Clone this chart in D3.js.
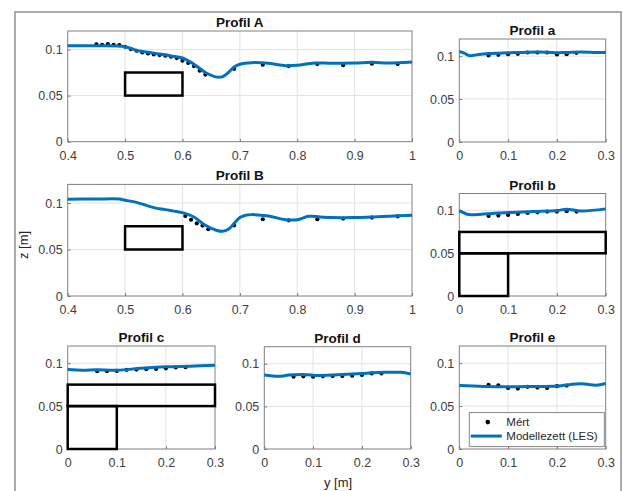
<!DOCTYPE html>
<meta charset="utf-8">
<style>
body { margin: 0; background: #fff; }
.chart text { font-family: "Liberation Sans", Arial, sans-serif; fill: #262626; }
.chart .tick text { font-size: 12.5px; fill: #404040; }
.chart .title { font-size: 13.5px; font-weight: bold; fill: #111; }
.chart .grid line { stroke: #e3e3e3; }
.chart .frame { fill: none; stroke: #808080; }
.chart .model { fill: none; stroke: #0072BD; stroke-width: 3; }
.chart .obstacle { fill: none; stroke: #000; stroke-width: 2.5; }
</style>
<body>
<svg class="chart js-chart"></svg>
<script src="https://cdn.jsdelivr.net/npm/d3@7"></script>
<script>
"use strict";

// Profil A (wide)
var lineA_y = [0.4, 0.45, 0.5, 0.52, 0.55, 0.58, 0.6, 0.62, 0.64, 0.66, 0.67, 0.68, 0.69, 0.7, 0.72, 0.75, 0.78, 0.8, 0.83, 0.86, 0.9, 0.93, 0.96, 1.0];
var lineA_z = [0.104, 0.104, 0.103, 0.099, 0.096, 0.093, 0.0907, 0.084, 0.075, 0.070, 0.0706, 0.075, 0.081, 0.084, 0.0857, 0.085, 0.0824, 0.0828, 0.0853, 0.085, 0.0853, 0.086, 0.0853, 0.0864];
var dotsA_y = [0.45, 0.46, 0.47, 0.48, 0.49, 0.5, 0.51, 0.52, 0.53, 0.54, 0.55, 0.56, 0.57, 0.58, 0.59, 0.6, 0.61, 0.62, 0.63, 0.64, 0.69, 0.74, 0.785, 0.835, 0.88, 0.93, 0.975];
var dotsA_z = [0.1054, 0.105, 0.1057, 0.105, 0.1047, 0.1029, 0.1004, 0.0986, 0.0968, 0.0957, 0.0946, 0.0939, 0.0932, 0.0921, 0.0907, 0.0878, 0.0853, 0.082, 0.077, 0.0728, 0.079, 0.0835, 0.082, 0.0842, 0.083, 0.0846, 0.0842];

// Profil B (wide)
var lineB_y = [0.4, 0.45, 0.49, 0.5, 0.52, 0.55, 0.57, 0.6, 0.62, 0.64, 0.66, 0.67, 0.68, 0.69, 0.7, 0.71, 0.72, 0.75, 0.78, 0.8, 0.82, 0.84, 0.86, 0.9, 0.93, 0.96, 1.0];
var lineB_z = [0.104, 0.1043, 0.1043, 0.103, 0.1007, 0.095, 0.0929, 0.0896, 0.085, 0.076, 0.0704, 0.0696, 0.0718, 0.0779, 0.0843, 0.0868, 0.0875, 0.086, 0.082, 0.082, 0.0857, 0.085, 0.0843, 0.0843, 0.085, 0.0857, 0.0868];
var dotsB_y = [0.605, 0.615, 0.625, 0.635, 0.645, 0.69, 0.74, 0.785, 0.835, 0.88, 0.93, 0.975];
var dotsB_z = [0.086, 0.082, 0.078, 0.0757, 0.0718, 0.076, 0.0825, 0.0814, 0.0825, 0.0832, 0.0843, 0.0857];

// small profiles a..e: measured y positions
var dotsSmall_y = [0.06, 0.08, 0.1, 0.12, 0.14, 0.16, 0.18, 0.2, 0.22, 0.24];
var dotsSmallE_y = [0.06, 0.08, 0.1, 0.12, 0.14, 0.16, 0.18, 0.2, 0.22];

var lineSmallA_y = [0, 0.01, 0.02, 0.03, 0.04, 0.06, 0.1, 0.14, 0.18, 0.2, 0.22, 0.25, 0.28, 0.3];
var lineSmallA_z = [0.1054, 0.1035, 0.1006, 0.101, 0.102, 0.103, 0.1039, 0.1047, 0.1047, 0.104, 0.1043, 0.105, 0.1043, 0.1043];
var dotsSmallA_z = [0.1008, 0.1016, 0.1023, 0.1027, 0.1043, 0.1043, 0.1043, 0.102, 0.1023, 0.1039];

var lineSmallB_y = [0, 0.02, 0.05, 0.1, 0.15, 0.2, 0.22, 0.25, 0.3];
var lineSmallB_z = [0.1, 0.0953, 0.096, 0.0977, 0.0988, 0.1, 0.1016, 0.0996, 0.102];
var dotsSmallB_z = [0.0938, 0.0941, 0.0949, 0.0961, 0.0973, 0.098, 0.0988, 0.0988, 0.0992, 0.0988];

var lineSmallC_y = [0, 0.03, 0.06, 0.1, 0.15, 0.2, 0.25, 0.3];
var lineSmallC_z = [0.0925, 0.0918, 0.0922, 0.0918, 0.094, 0.0957, 0.0965, 0.0976];
var dotsSmallC_z = [0.0906, 0.0906, 0.091, 0.0922, 0.0925, 0.093, 0.0933, 0.094, 0.095, 0.0953];

var lineSmallD_y = [0, 0.03, 0.05, 0.08, 0.1, 0.15, 0.2, 0.25, 0.28, 0.3];
var lineSmallD_z = [0.0868, 0.0852, 0.0868, 0.0875, 0.0864, 0.0872, 0.0887, 0.0899, 0.0899, 0.088];
var dotsSmallD_z = [0.0848, 0.0852, 0.0848, 0.0852, 0.0856, 0.0856, 0.086, 0.0868, 0.0887, 0.0887];

var lineSmallE_y = [0, 0.05, 0.1, 0.15, 0.2, 0.25, 0.28, 0.3];
var lineSmallE_z = [0.0739, 0.0728, 0.0724, 0.0728, 0.0735, 0.0759, 0.0743, 0.0763];
var dotsSmallE_z = [0.0747, 0.0743, 0.0712, 0.0704, 0.0724, 0.0716, 0.0712, 0.0732, 0.0739];

// obstacle outlines [y0, y1, z0, z1]
var obstacleWide = [[0.5, 0.6, 0.05, 0.075]];
var obstacleSmall = [[0, 0.3, 0.05, 0.075], [0, 0.1, 0, 0.05]];

var wideTicksX = [0.4, 0.5, 0.6, 0.7, 0.8, 0.9, 1];
var smallTicksX = [0, 0.1, 0.2, 0.3];
var ticksZ = [0, 0.05, 0.1];
var legendLabels = ["Mért", "Modellezett (LES)"];

var panels = [
    { title: "Profil A", box: [67.7, 412, 31, 141.7], dom: [0.4, 1], ticks: wideTicksX,
      ly: lineA_y, lz: lineA_z, dy: dotsA_y, dz: dotsA_z, obs: obstacleWide },
    { title: "Profil a", box: [459.3, 605.7, 39, 142], dom: [0, 0.3], ticks: smallTicksX,
      ly: lineSmallA_y, lz: lineSmallA_z, dy: dotsSmall_y, dz: dotsSmallA_z, obs: [] },
    { title: "Profil B", box: [67.7, 412, 184.4, 296], dom: [0.4, 1], ticks: wideTicksX,
      ly: lineB_y, lz: lineB_z, dy: dotsB_y, dz: dotsB_z, obs: obstacleWide },
    { title: "Profil b", box: [459.3, 605.7, 193.5, 296], dom: [0, 0.3], ticks: smallTicksX,
      ly: lineSmallB_y, lz: lineSmallB_z, dy: dotsSmall_y, dz: dotsSmallB_z, obs: obstacleSmall },
    { title: "Profil c", box: [67.7, 215, 346, 449], dom: [0, 0.3], ticks: smallTicksX,
      ly: lineSmallC_y, lz: lineSmallC_z, dy: dotsSmall_y, dz: dotsSmallC_z, obs: obstacleSmall },
    { title: "Profil d", box: [264.3, 410.7, 346.7, 449], dom: [0, 0.3], ticks: smallTicksX,
      ly: lineSmallD_y, lz: lineSmallD_z, dy: dotsSmall_y, dz: dotsSmallD_z, obs: [] },
    { title: "Profil e", box: [459.3, 605.7, 346, 449], dom: [0, 0.3], ticks: smallTicksX,
      ly: lineSmallE_y, lz: lineSmallE_z, dy: dotsSmallE_y, dz: dotsSmallE_z, obs: [], legend: true }
];

var width = 623, height = 491;

var svg = d3.select(".js-chart")
    .attr("width", width)
    .attr("height", height);

svg.append("rect")
    .attr("x", 15).attr("y", 12)
    .attr("width", 606).attr("height", 500)
    .attr("fill", "#fff")
    .attr("stroke", "#ababab")
    .attr("stroke-width", 2);

panels.forEach(function(p) {
    var x = d3.scaleLinear().domain(p.dom).range([p.box[0], p.box[1]]);
    var z = d3.scaleLinear().domain([0, 0.12]).range([p.box[3], p.box[2]]);
    var g = svg.append("g");

    // grid
    var grid = g.append("g").attr("class", "grid");
    grid.selectAll(".gx").data(p.ticks.slice(1, -1)).enter().append("line")
        .attr("x1", function(d) { return x(d); }).attr("x2", function(d) { return x(d); })
        .attr("y1", z(0)).attr("y2", z(0.12));
    grid.selectAll(".gz").data(ticksZ.slice(1)).enter().append("line")
        .attr("y1", function(d) { return z(d); }).attr("y2", function(d) { return z(d); })
        .attr("x1", x(p.dom[0])).attr("x2", x(p.dom[1]));

    // axes
    var ax = g.append("g")
        .attr("transform", "translate(0," + p.box[3] + ")")
        .call(d3.axisBottom(x).tickValues(p.ticks).tickSize(-3).tickPadding(9).tickFormat(d3.format("")));
    var az = g.append("g")
        .attr("transform", "translate(" + p.box[0] + ",0)")
        .call(d3.axisLeft(z).tickValues(ticksZ).tickSize(-3).tickPadding(5).tickFormat(d3.format("")));
    [ax, az].forEach(function(a) {
        a.select(".domain").remove();
        a.selectAll(".tick line").attr("stroke", "#777");
    });

    g.append("rect").attr("class", "frame")
        .attr("x", p.box[0]).attr("y", p.box[2])
        .attr("width", p.box[1] - p.box[0]).attr("height", p.box[3] - p.box[2]);

    g.append("text").attr("class", "title")
        .attr("x", (p.box[0] + p.box[1]) / 2).attr("y", p.box[2] - 4)
        .attr("text-anchor", "middle").text(p.title);

    // obstacles
    g.selectAll(".obstacle").data(p.obs).enter().append("rect")
        .attr("class", "obstacle")
        .attr("x", function(d) { return x(d[0]); })
        .attr("width", function(d) { return x(d[1]) - x(d[0]); })
        .attr("y", function(d) { return z(d[3]); })
        .attr("height", function(d) { return z(d[2]) - z(d[3]); });

    // measured
    var pts = p.dy.map(function(v, i) { return [v, p.dz[i]]; });
    g.selectAll(".dot").data(pts).enter().append("circle")
        .attr("cx", function(d) { return x(d[0]); })
        .attr("cy", function(d) { return z(d[1]); })
        .attr("r", 2.1).attr("fill", "#000");

    // model
    var line = d3.line()
        .x(function(d) { return x(d[0]); })
        .y(function(d) { return z(d[1]); })
        .curve(d3.curveCatmullRom.alpha(0.5));
    g.append("path").attr("class", "model")
        .attr("d", line(p.ly.map(function(v, i) { return [v, p.lz[i]]; })));

    if (p.legend) {
        var lg = g.append("g").attr("transform", "translate(" + (p.box[0] + 10) + "," + (z(0.05) + 6.5) + ")");
        lg.append("rect").attr("width", 135).attr("height", 34)
            .attr("fill", "#fff").attr("stroke", "#888");
        lg.append("circle").attr("cx", 18.5).attr("cy", 9.5).attr("r", 2.3).attr("fill", "#000");
        lg.append("line").attr("x1", 1.5).attr("x2", 32.5).attr("y1", 23.5).attr("y2", 23.5)
            .attr("stroke", "#0072BD").attr("stroke-width", 3);
        lg.selectAll(".lt").data(legendLabels).enter().append("text")
            .attr("x", 37).attr("y", function(d, i) { return 13.5 + i * 14; })
            .style("font-size", "11.5px").text(function(d) { return d; });
    }
});

svg.append("text")
    .attr("transform", "translate(28,245) rotate(-90)")
    .attr("text-anchor", "middle").style("font-size", "13px").text("z [m]");
svg.append("text")
    .attr("x", 338).attr("y", 487)
    .attr("text-anchor", "middle").style("font-size", "13px").text("y [m]");
</script>
</body>
